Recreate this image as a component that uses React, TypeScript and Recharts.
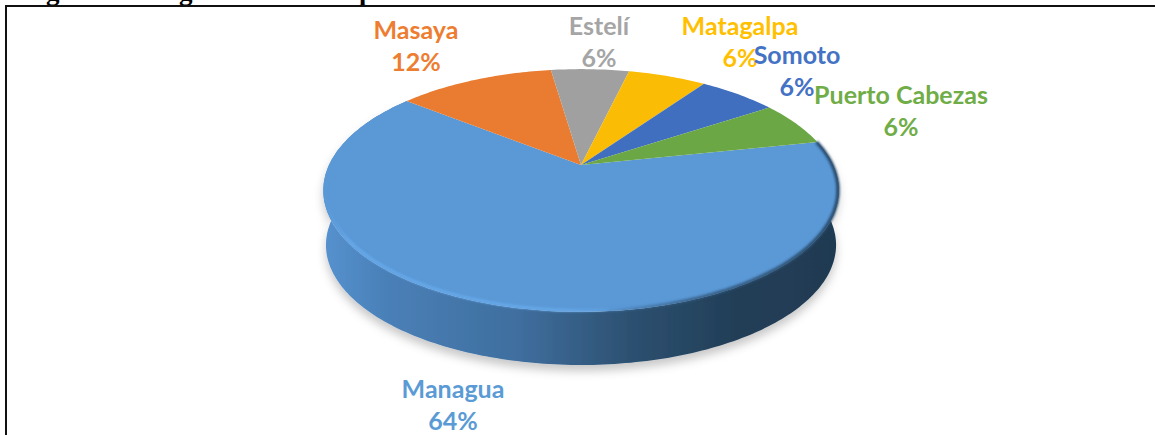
import { PieChart, Pie, Cell } from "recharts";

const cities = ["Managua", "Masaya", "Estelí", "Matagalpa", "Somoto", "Puerto Cabezas"];
const shares = [64, 12, 6, 6, 6, 6];
const textColors = ["#5B9BD5", "#ED7D31", "#A5A5A5", "#FFC000", "#4472C4", "#70AD47"];
const sliceColors = ["#5A98D6", "#E97C30", "#A0A0A0", "#FBBC05", "#3F6FBE", "#6BA744"];

// the caption above the frame is cut off by the crop, only these descenders show
const captionBits = ["g", "g", "p"];
const CAPTION_X = [46, 179, 359];

const chartData = cities.map((name, i) => ({ name, value: shares[i] }));

// label anchor for each city (centre x, first baseline)
const LABEL_POS = [
  [453, 398],
  [416, 39],
  [599, 35],
  [740, 35],
  [797, 64],
  [901, 104],
];

const APEX_X = 581;
const APEX_Y = 165;
const PERSPECTIVE = 0.21;
const SCALE_X = 252;
const SCALE_Y = 116;
const DEPTH = 55;

// pie angle -> point on the tilted disc, with perspective
function project(cx: number, cy: number, angle: number, scale = 1, drop = 0) {
  const rad = (angle * Math.PI) / 180;
  const X = Math.cos(rad) * scale;
  const Y = Math.sin(rad) * scale;
  const w = 1 + PERSPECTIVE * Y;
  return [cx + (SCALE_X * X) / w, cy - (SCALE_Y * Y) / w + drop];
}

function arcPoints(cx: number, cy: number, from: number, to: number, scale = 1, drop = 0) {
  const steps = Math.max(2, Math.ceil(Math.abs(to - from)));
  const pts: string[] = [];
  for (let i = 0; i <= steps; i++) {
    const [x, y] = project(cx, cy, from + ((to - from) * i) / steps, scale, drop);
    pts.push(`${x.toFixed(1)},${y.toFixed(1)}`);
  }
  return pts;
}

function TopSlice(props: any) {
  const { cx, cy, startAngle, endAngle, fill, index } = props;
  const d = `M${cx},${cy}L${arcPoints(cx, cy, startAngle, endAngle).join("L")}Z`;
  return (
    <g>
      <path d={d} fill={fill} stroke="none" />
      {index === 0 && (
        <>
          <path
            d={`M${arcPoints(cx, cy, -85, 12, 0.997).join("L")}`}
            fill="none"
            stroke="url(#bevelDark)"
            strokeWidth={3.5}
            filter="url(#soft)"
          />
          <path
            d={`M${arcPoints(cx, cy, -172, -80, 0.992).join("L")}`}
            fill="none"
            stroke="url(#bevelLight)"
            strokeWidth={3}
            filter="url(#soft)"
          />
        </>
      )}
    </g>
  );
}

function WallSlice(props: any) {
  const { cx, cy, startAngle, endAngle, index } = props;
  if (index !== 0) return <g />;
  const upper = arcPoints(cx, cy, startAngle, endAngle);
  const lower = arcPoints(cx, cy, endAngle, startAngle, 0.99, DEPTH);
  return <path d={`M${upper.join("L")}L${lower.join("L")}Z`} fill="url(#wall)" filter="url(#floorShadow)" />;
}

function renderLabel(props: any) {
  const { index, name, value } = props;
  const [x, y] = LABEL_POS[index];
  return (
    <text
      key={name}
      x={x}
      textAnchor="middle"
      fill={textColors[index]}
      fontFamily="Lato, sans-serif"
      fontWeight={700}
      fontSize={25}
    >
      <tspan x={x} y={y}>{name}</tspan>
      <tspan x={x} y={y + 32}>{value}%</tspan>
    </text>
  );
}

export default function App() {
  return (
    <div style={{ position: "absolute", left: 0, top: 0, width: 1155, height: 435, background: "#fff", overflow: "hidden" }}>
      {captionBits.map((bit, i) => (
        <span
          key={i}
          style={{
            position: "absolute",
            left: CAPTION_X[i],
            top: -24,
            fontFamily: "'Liberation Serif', serif",
            fontWeight: 700,
            fontSize: 27,
            lineHeight: "30px",
            color: "#000",
          }}
        >
          {bit}
        </span>
      ))}
      <div style={{ position: "absolute", left: 5, top: 5, right: -5, bottom: -5, borderLeft: "2px solid #111", borderTop: "2px solid #111" }} />
      <div style={{ position: "absolute", left: 0, top: 0 }}>
        <PieChart width={1155} height={435} margin={{ top: 0, right: 0, bottom: 0, left: 0 }}>
          <defs>
            <linearGradient id="wall" x1="0" y1="0" x2="1" y2="0">
              <stop offset="0%" stopColor="#5692CF" />
              <stop offset="12%" stopColor="#4A80B8" />
              <stop offset="38%" stopColor="#3F6E9E" />
              <stop offset="60%" stopColor="#2C5070" />
              <stop offset="80%" stopColor="#223E57" />
              <stop offset="100%" stopColor="#1F3A52" />
            </linearGradient>
            <linearGradient id="bevelLight" x1="0" y1="0" x2="1" y2="0">
              <stop offset="0%" stopColor="#64A6E6" stopOpacity="0" />
              <stop offset="8%" stopColor="#66A9EA" />
              <stop offset="75%" stopColor="#66A8E8" />
              <stop offset="100%" stopColor="#66A8E8" stopOpacity="0" />
            </linearGradient>
            <linearGradient id="bevelDark" x1="0" y1="0" x2="1" y2="0">
              <stop offset="0%" stopColor="#3F6E9E" stopOpacity="0.3" />
              <stop offset="40%" stopColor="#2F5577" stopOpacity="0.8" />
              <stop offset="100%" stopColor="#2A4C6C" />
            </linearGradient>
            <filter id="soft" x="-5%" y="-5%" width="110%" height="110%">
              <feGaussianBlur stdDeviation="1" />
            </filter>
            <filter id="floorShadow" x="-10%" y="-10%" width="120%" height="130%">
              <feDropShadow dx="0" dy="6" stdDeviation="5" floodColor="#000" floodOpacity="0.22" />
            </filter>
          </defs>
          <Pie
            data={chartData}
            dataKey="value"
            nameKey="name"
            cx={APEX_X}
            cy={APEX_Y}
            outerRadius={250}
            startAngle={11.9}
            endAngle={-348.1}
            stroke="none"
            isAnimationActive={false}
            shape={WallSlice}
            legendType="none"
          />
          <Pie
            data={chartData}
            dataKey="value"
            nameKey="name"
            cx={APEX_X}
            cy={APEX_Y}
            outerRadius={250}
            startAngle={11.9}
            endAngle={-348.1}
            stroke="none"
            isAnimationActive={false}
            shape={TopSlice}
            label={renderLabel}
            labelLine={false}
          >
            {chartData.map((entry, index) => (
              <Cell key={entry.name} fill={sliceColors[index]} />
            ))}
          </Pie>
        </PieChart>
      </div>
    </div>
  );
}
